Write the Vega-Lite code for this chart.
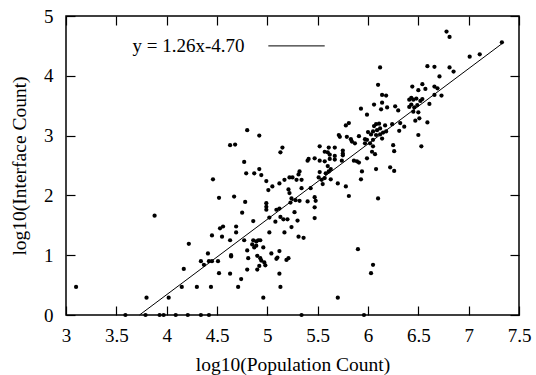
{
  "$schema": "https://vega.github.io/schema/vega-lite/v6.json",
  "width": 453,
  "height": 299,
  "autosize": {"type": "none"},
  "padding": {"left": 66, "top": 16, "right": 17, "bottom": 60},
  "background": "white",
  "config": {
    "view": {"stroke": "black", "strokeWidth": 1.5},
    "font": "Liberation Serif",
    "axis": {
      "grid": false,
      "domain": false,
      "tickSize": -9,
      "tickWidth": 1.2,
      "tickColor": "black",
      "labelColor": "black",
      "titleColor": "black",
      "labelFont": "Liberation Serif",
      "titleFont": "Liberation Serif",
      "labelFontSize": 19,
      "titleFontSize": 19.5,
      "titleFontWeight": "normal",
      "labelFlush": false,
      "labelOverlap": false
    }
  },
  "datasets": {
    "pts": [
      {"x":3.10,"y":0.47},{"x":3.88,"y":1.66},{"x":4.46,"y":2.27},{"x":4.45,"y":1.33},{"x":4.22,"y":1.19},{"x":4.41,"y":1.03},{"x":4.34,"y":0.90},{"x":4.37,"y":0.84},{"x":4.42,"y":0.90},{"x":4.45,"y":0.90},{"x":4.17,"y":0.77},{"x":4.15,"y":0.47},{"x":4.30,"y":0.47},{"x":4.44,"y":0.47},{"x":3.80,"y":0.29},{"x":4.02,"y":0.29},
      {"x":3.59,"y":0},{"x":3.79,"y":0},{"x":3.93,"y":0},{"x":3.97,"y":0},{"x":4.09,"y":0},{"x":4.21,"y":0},{"x":4.34,"y":0},{"x":4.42,"y":0},{"x":5.34,"y":0},{"x":5.96,"y":0},
      {"x":4.52,"y":1.96},{"x":4.67,"y":1.98},{"x":4.78,"y":1.89},{"x":4.75,"y":1.71},{"x":4.86,"y":1.57},{"x":4.99,"y":1.87},{"x":4.99,"y":1.81},{"x":4.99,"y":1.76},{"x":5.02,"y":1.63},{"x":5.08,"y":1.56},{"x":5.09,"y":1.76},{"x":5.12,"y":1.78},{"x":5.13,"y":1.64},{"x":5.16,"y":1.60},{"x":5.20,"y":1.60},{"x":5.17,"y":1.38},{"x":5.24,"y":1.47},{"x":5.30,"y":1.58},{"x":5.27,"y":1.72},{"x":5.47,"y":1.62},{"x":5.31,"y":1.31},{"x":5.36,"y":1.29},{"x":5.02,"y":1.38},
      {"x":4.55,"y":1.31},{"x":4.53,"y":1.45},{"x":4.56,"y":1.48},{"x":4.69,"y":1.48},{"x":4.69,"y":1.38},{"x":4.63,"y":1.25},{"x":4.77,"y":1.25},{"x":4.86,"y":1.25},{"x":4.89,"y":1.23},{"x":4.91,"y":1.25},{"x":4.93,"y":1.25},{"x":4.85,"y":1.18},{"x":4.89,"y":1.16},{"x":4.87,"y":1.13},{"x":4.96,"y":1.13},{"x":5.04,"y":1.03},{"x":5.10,"y":0.96},{"x":5.12,"y":1.07},{"x":5.09,"y":0.94},{"x":5.19,"y":0.92},{"x":5.21,"y":0.95},{"x":4.80,"y":1.08},{"x":4.81,"y":0.95},{"x":4.90,"y":0.99},{"x":4.93,"y":0.95},{"x":4.94,"y":0.91},{"x":4.97,"y":0.88},{"x":4.98,"y":0.83},{"x":4.92,"y":0.82},{"x":4.90,"y":0.76},{"x":4.80,"y":0.76},{"x":4.64,"y":1.00},{"x":4.64,"y":0.98},{"x":4.51,"y":0.90},{"x":4.52,"y":0.70},{"x":4.63,"y":0.69},{"x":4.74,"y":0.60},{"x":4.71,"y":0.47},{"x":5.12,"y":0.69},{"x":5.13,"y":0.47},{"x":4.96,"y":0.29},{"x":5.70,"y":0.29},{"x":5.90,"y":1.10},
      {"x":4.80,"y":3.09},{"x":4.92,"y":3.00},{"x":4.63,"y":2.84},{"x":4.68,"y":2.85},{"x":5.15,"y":2.80},{"x":5.13,"y":2.72},{"x":4.77,"y":2.56},{"x":4.79,"y":2.37},{"x":4.87,"y":2.37},{"x":4.92,"y":2.44},{"x":4.94,"y":2.34},{"x":4.99,"y":2.24},{"x":5.01,"y":2.09},{"x":5.05,"y":2.15},{"x":5.12,"y":2.20},{"x":5.17,"y":2.26},
      {"x":5.93,"y":3.45},{"x":5.99,"y":3.35},{"x":5.81,"y":3.21},{"x":5.78,"y":3.17},{"x":5.71,"y":3.01},{"x":5.72,"y":2.98},{"x":5.79,"y":2.98},{"x":5.83,"y":2.94},{"x":5.84,"y":2.90},{"x":5.87,"y":2.87},{"x":5.91,"y":2.99},{"x":5.97,"y":2.94},{"x":6.00,"y":3.06},{"x":5.99,"y":2.93},{"x":5.97,"y":2.87},{"x":6.02,"y":2.87},{"x":5.99,"y":2.62},{"x":5.89,"y":2.57},{"x":5.91,"y":2.55},{"x":5.86,"y":2.58},{"x":5.94,"y":2.40},{"x":5.93,"y":2.27},{"x":5.81,"y":1.99},{"x":5.75,"y":2.75},{"x":5.75,"y":2.70},{"x":5.75,"y":2.67},{"x":5.74,"y":2.58},{"x":5.67,"y":2.80},{"x":5.67,"y":2.66},{"x":5.67,"y":2.60},{"x":5.61,"y":2.80},{"x":5.60,"y":2.72},{"x":5.62,"y":2.68},{"x":5.62,"y":2.61},{"x":5.57,"y":2.73},{"x":5.52,"y":2.82},{"x":5.47,"y":2.62},{"x":5.52,"y":2.58},{"x":5.41,"y":2.61},{"x":5.40,"y":2.58},{"x":5.57,"y":2.57},{"x":5.60,"y":2.49},{"x":5.63,"y":2.44},{"x":5.61,"y":2.40},{"x":5.58,"y":2.37},{"x":5.52,"y":2.39},{"x":5.51,"y":2.30},{"x":5.54,"y":2.26},{"x":5.57,"y":2.29},{"x":5.63,"y":2.27},{"x":5.55,"y":2.19},{"x":5.70,"y":2.20},{"x":5.78,"y":2.15},{"x":5.32,"y":2.40},{"x":5.31,"y":2.35},{"x":5.25,"y":2.30},{"x":5.22,"y":2.30},{"x":5.29,"y":2.26},{"x":5.34,"y":2.26},{"x":5.34,"y":2.12},{"x":5.21,"y":2.10},{"x":5.22,"y":2.04},{"x":5.24,"y":1.95},{"x":5.28,"y":1.92},{"x":5.32,"y":1.91},{"x":5.23,"y":1.88},{"x":5.40,"y":1.90},{"x":5.47,"y":1.97},{"x":5.48,"y":1.91},{"x":5.47,"y":1.80},{"x":5.43,"y":2.12},
      {"x":6.78,"y":4.74},{"x":6.81,"y":4.65},{"x":7.01,"y":4.32},{"x":7.11,"y":4.36},{"x":6.12,"y":4.14},{"x":6.59,"y":4.16},{"x":6.66,"y":4.15},{"x":6.81,"y":4.14},{"x":6.85,"y":4.07},{"x":6.71,"y":3.99},{"x":6.10,"y":3.85},{"x":6.44,"y":3.82},{"x":6.50,"y":3.76},{"x":6.54,"y":3.86},{"x":6.57,"y":3.78},{"x":6.66,"y":3.82},{"x":6.69,"y":3.79},{"x":6.14,"y":3.68},{"x":6.18,"y":3.67},{"x":6.66,"y":3.68},{"x":6.73,"y":3.67},{"x":6.06,"y":3.52},{"x":6.14,"y":3.55},{"x":6.13,"y":3.44},{"x":6.19,"y":3.47},{"x":6.27,"y":3.49},{"x":6.41,"y":3.60},{"x":6.43,"y":3.63},{"x":6.45,"y":3.60},{"x":6.48,"y":3.62},{"x":6.52,"y":3.58},{"x":6.54,"y":3.61},{"x":6.41,"y":3.48},{"x":6.43,"y":3.52},{"x":6.46,"y":3.47},{"x":6.49,"y":3.51},{"x":6.45,"y":3.40},{"x":6.50,"y":3.39},{"x":6.51,"y":3.29},{"x":6.47,"y":3.25},{"x":6.61,"y":3.53},{"x":6.59,"y":3.22},{"x":6.50,"y":3.01},{"x":6.53,"y":2.82},{"x":6.32,"y":3.21},{"x":6.31,"y":3.08},{"x":6.36,"y":3.15},{"x":6.24,"y":3.19},{"x":6.17,"y":3.17},{"x":6.11,"y":3.20},{"x":6.08,"y":3.19},{"x":6.06,"y":3.16},{"x":6.09,"y":3.09},{"x":6.12,"y":3.12},{"x":6.05,"y":3.07},{"x":6.03,"y":3.02},{"x":6.08,"y":3.01},{"x":6.12,"y":3.02},{"x":6.15,"y":3.05},{"x":6.18,"y":3.07},{"x":6.05,"y":2.93},{"x":6.05,"y":2.82},{"x":6.04,"y":2.73},{"x":6.07,"y":2.69},{"x":6.25,"y":2.84},{"x":6.26,"y":2.74},{"x":6.14,"y":2.95},{"x":6.30,"y":3.42},
      {"x":6.08,"y":2.44},{"x":6.22,"y":2.47},{"x":6.26,"y":2.41},{"x":6.10,"y":1.95},{"x":6.05,"y":0.84},{"x":6.03,"y":0.70},{"x":7.33,"y":4.56}
    ]
  },
  "layer": [
    {
      "data": {"name": "pts"},
      "mark": {"type": "point", "shape": "circle", "filled": true, "size": 18, "color": "black", "opacity": 1},
      "encoding": {
        "x": {"field": "x", "type": "quantitative", "scale": {"domain": [3, 7.5], "nice": false, "zero": false},
          "axis": {"orient": "bottom", "values": [3, 3.5, 4, 4.5, 5, 5.5, 6, 6.5, 7, 7.5], "format": "~g", "labelPadding": 20, "title": "log10(Population Count)", "titlePadding": 10}},
        "y": {"field": "y", "type": "quantitative", "scale": {"domain": [0, 5], "nice": false},
          "axis": {"orient": "left", "values": [0, 1, 2, 3, 4, 5], "labelPadding": 22, "title": "log10(Interface Count)", "titlePadding": 14}}
      }
    },
    {
      "data": {"values": [{"x": 3.73, "y": 0}, {"x": 7.33, "y": 4.536}]},
      "mark": {"type": "line", "color": "black", "strokeWidth": 1},
      "encoding": {
        "x": {"field": "x", "type": "quantitative", "scale": {"domain": [3, 7.5], "nice": false, "zero": false},
          "axis": {"orient": "top", "values": [3, 3.5, 4, 4.5, 5, 5.5, 6, 6.5, 7, 7.5], "labels": false, "title": null}},
        "y": {"field": "y", "type": "quantitative", "scale": {"domain": [0, 5], "nice": false},
          "axis": {"orient": "right", "values": [0, 1, 2, 3, 4, 5], "labels": false, "title": null}}
      }
    },
    {
      "data": {"values": [{}]},
      "mark": {"type": "text", "align": "left", "baseline": "alphabetic", "font": "Liberation Serif", "fontSize": 19, "color": "black"},
      "encoding": {
        "x": {"datum": 3.66, "type": "quantitative", "axis": null},
        "y": {"datum": 4.39, "type": "quantitative", "axis": null},
        "text": {"value": "y = 1.26x-4.70"}
      }
    },
    {
      "data": {"values": [{}]},
      "mark": {"type": "rule", "color": "black", "strokeWidth": 1},
      "encoding": {
        "x": {"datum": 5.01, "type": "quantitative", "axis": null},
        "x2": {"datum": 5.57},
        "y": {"datum": 4.5, "type": "quantitative", "axis": null}
      }
    }
  ],
  "resolve": {"axis": {"x": "independent", "y": "independent"}}
}
